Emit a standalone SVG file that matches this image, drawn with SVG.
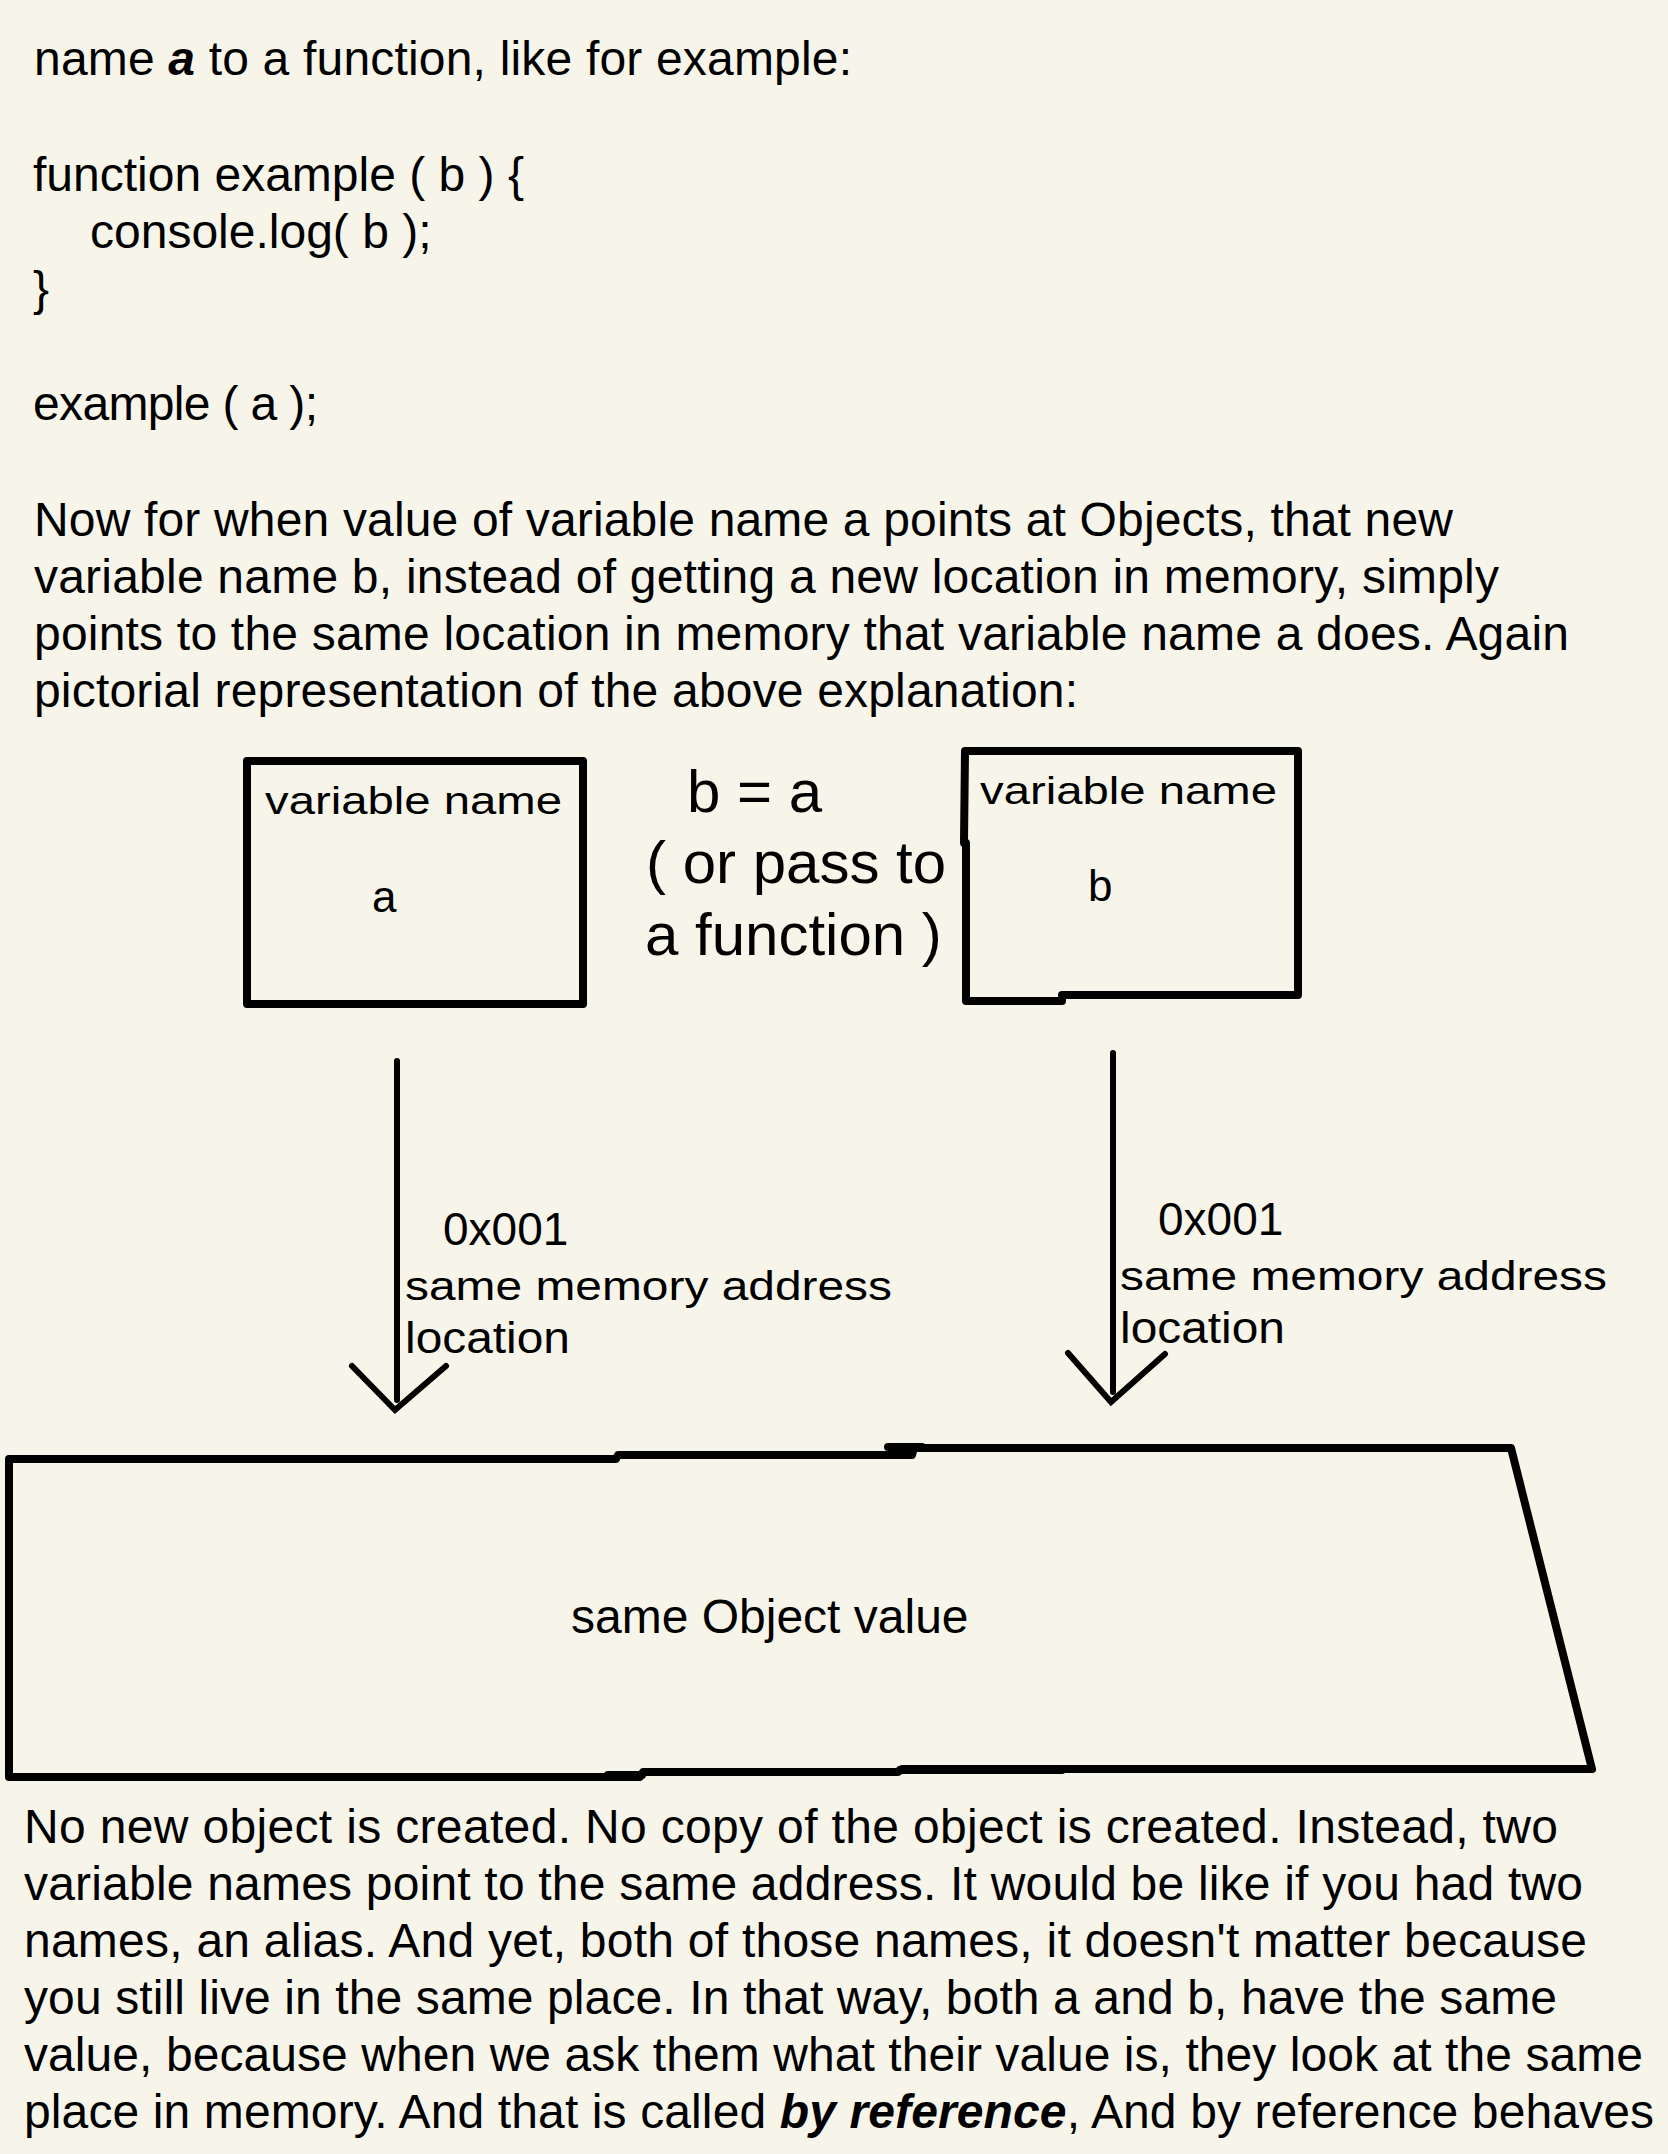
<svg xmlns="http://www.w3.org/2000/svg" width="1668" height="2154" viewBox="0 0 1668 2154">
  <defs>
    <style>
      text { font-family: "Liberation Sans", Arial, Helvetica, sans-serif; fill: #000; }
      .body { font-size: 48px; }
      .bi { font-weight: bold; font-style: italic; }
      .big { font-size: 60px; }
      .shape { fill: none; stroke: #000; stroke-width: 8; stroke-linejoin: round; stroke-linecap: round; }
      .conn { fill: none; stroke: #000; stroke-width: 6; stroke-linejoin: miter; stroke-linecap: round; }
    </style>
  </defs>
  <rect x="0" y="0" width="1668" height="2154" fill="#f7f5ea"/>

  <g id="intro-text">
    <text x="34" y="75" class="body" textLength="818">name <tspan class="bi">a</tspan> to a function, like for example:</text>
    <text x="33" y="191" class="body">function example ( b ) {</text>
    <text x="90" y="248" class="body">console.log( b );</text>
    <text x="33" y="305" class="body">}</text>
    <text x="33" y="420" class="body" textLength="285">example ( a );</text>
    <text x="34" y="536" class="body" textLength="1419">Now for when value of variable name a points at Objects, that new</text>
    <text x="34" y="593" class="body" textLength="1465">variable name b, instead of getting a new location in memory, simply</text>
    <text x="34" y="650" class="body" textLength="1535">points to the same location in memory that variable name a does. Again</text>
    <text x="34" y="707" class="body" textLength="1044">pictorial representation of the above explanation:</text>
  </g>

  <g id="node-a">
    <rect x="247" y="761" width="336" height="243" class="shape"/>
    <text x="265" y="814" font-size="38" textLength="297" lengthAdjust="spacingAndGlyphs">variable name</text>
    <text x="372" y="912" font-size="44">a</text>
  </g>

  <g id="assign-label">
    <text x="687" y="812" class="big">b = a</text>
    <text x="646" y="883" class="big">( or pass to</text>
    <text x="645" y="955" class="big">a function )</text>
  </g>

  <g id="node-b">
    <path d="M965 751 H1298 V995 H1062 V1001 H966 V843 L964 843 Z" class="shape"/>
    <text x="980" y="804" font-size="38" textLength="297" lengthAdjust="spacingAndGlyphs">variable name</text>
    <text x="1088" y="901" font-size="44">b</text>
  </g>

  <g id="connectors">
    <g id="arrow-a">
      <line x1="397" y1="1061" x2="397" y2="1400" class="conn"/>
      <polyline points="352,1366 395,1410 446,1366" class="conn"/>
    </g>
    <g id="arrow-b">
      <line x1="1113" y1="1053" x2="1113" y2="1392" class="conn"/>
      <polyline points="1068,1353 1111,1402 1165,1354" class="conn"/>
    </g>
  </g>

  <g id="label-a">
    <text x="443" y="1245" font-size="46">0x001</text>
    <text x="405" y="1300" font-size="41" textLength="487" lengthAdjust="spacingAndGlyphs">same memory address</text>
    <text x="405" y="1353" font-size="45" textLength="165" lengthAdjust="spacingAndGlyphs">location</text>
  </g>
  <g id="label-b">
    <text x="1158" y="1235" font-size="46">0x001</text>
    <text x="1120" y="1290" font-size="41" textLength="487" lengthAdjust="spacingAndGlyphs">same memory address</text>
    <text x="1120" y="1343" font-size="45" textLength="165" lengthAdjust="spacingAndGlyphs">location</text>
  </g>

  <g id="node-object">
    <path d="M9 1777 V1459 H616 L618 1455 H912 L914 1448 H1511 L1592 1769 H902 L898 1772 H643 L640 1777 Z" class="shape"/>
    <line x1="888" y1="1447" x2="922" y2="1447" class="shape"/>
    <line x1="900" y1="1770" x2="1062" y2="1770" class="shape"/>
    <line x1="608" y1="1775" x2="642" y2="1775" class="shape"/>
    <text x="571" y="1633" class="body">same Object value</text>
  </g>

  <g id="outro-text">
    <text x="24" y="1843" class="body" textLength="1534">No new object is created. No copy of the object is created. Instead, two</text>
    <text x="24" y="1900" class="body" textLength="1559">variable names point to the same address. It would be like if you had two</text>
    <text x="24" y="1957" class="body" textLength="1563">names, an alias. And yet, both of those names, it doesn't matter because</text>
    <text x="24" y="2014" class="body" textLength="1533">you still live in the same place. In that way, both a and b, have the same</text>
    <text x="24" y="2071" class="body" textLength="1619">value, because when we ask them what their value is, they look at the same</text>
    <text x="24" y="2128" class="body" textLength="1630">place in memory. And that is called <tspan class="bi">by reference</tspan>, And by reference behaves</text>
  </g>
</svg>
